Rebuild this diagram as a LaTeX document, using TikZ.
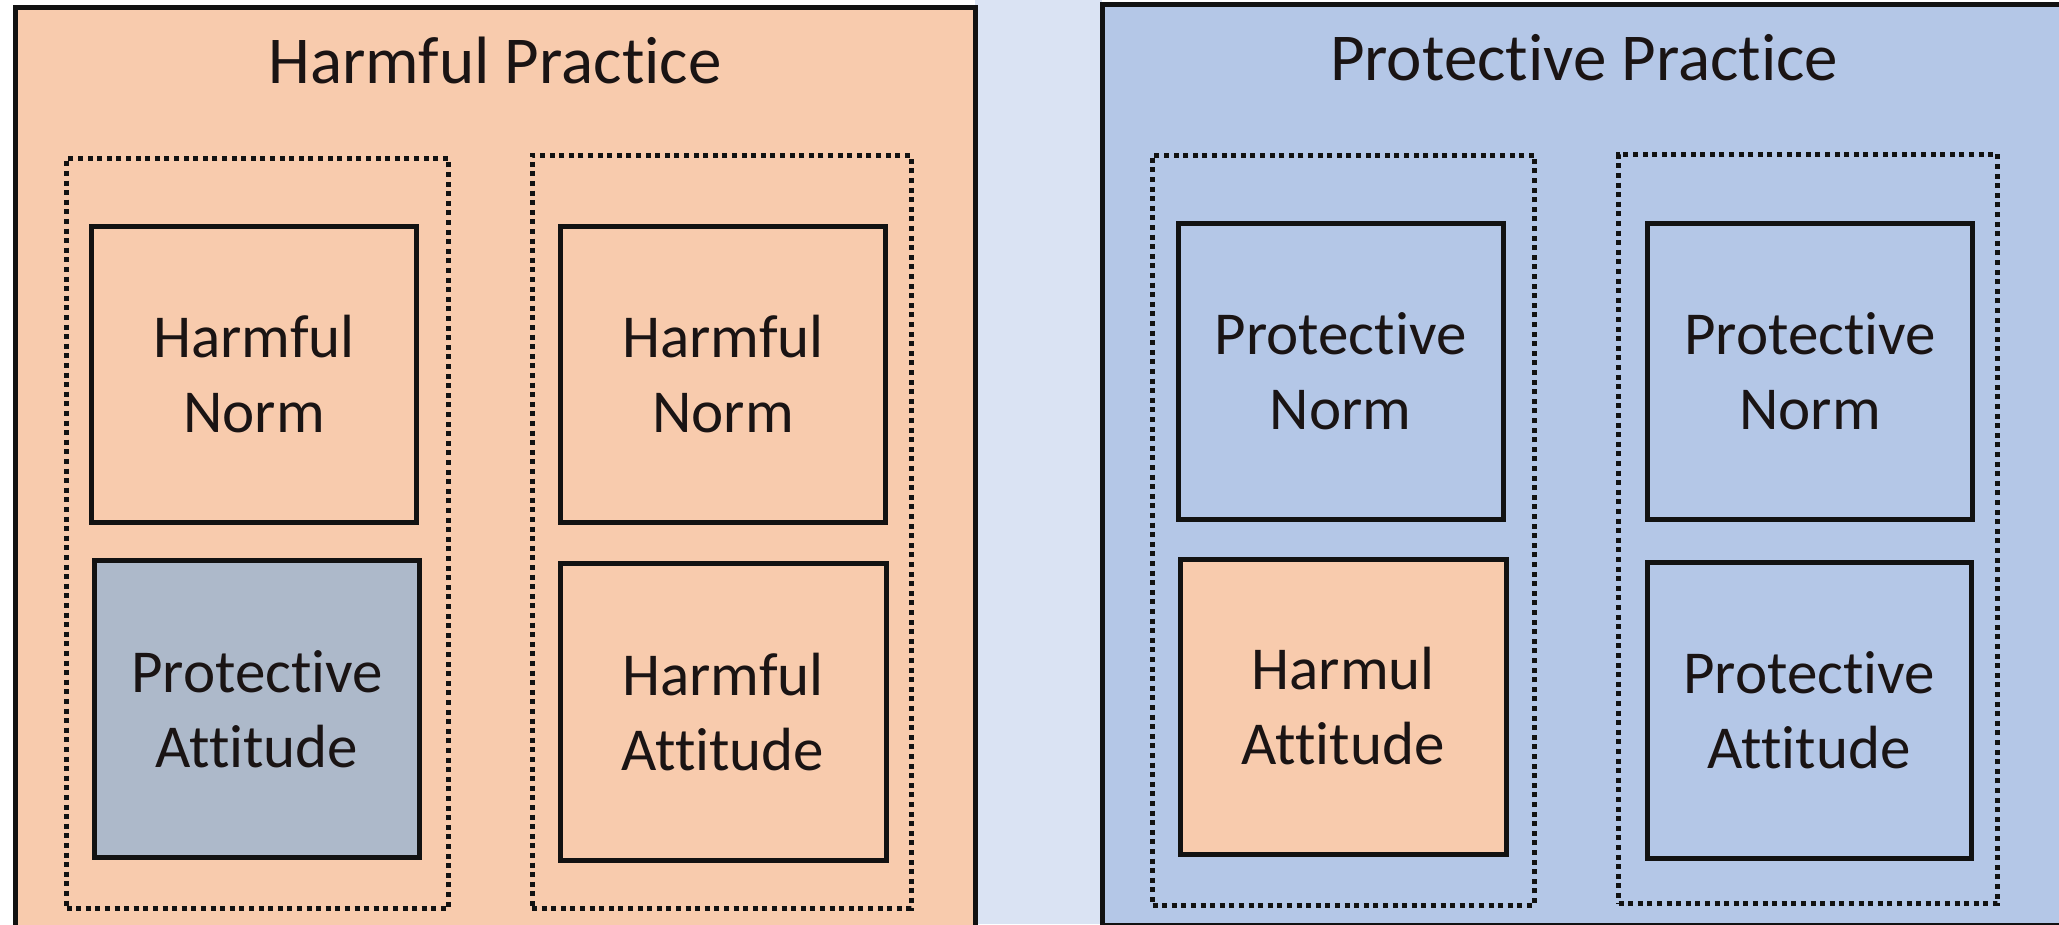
\documentclass[tikz,border=0pt]{standalone}
\usepackage{fontspec}
\setmainfont{Carlito}[Ligatures={NoCommon,NoContextual}]
\definecolor{harmfill}{HTML}{F8CBAD}
\definecolor{protfill}{HTML}{B4C7E7}
\definecolor{gapfill}{HTML}{DAE3F3}
\definecolor{mixfill}{HTML}{ADB9CA}
\definecolor{ink}{HTML}{121212}
\definecolor{txt}{HTML}{1A1414}

\begin{document}
\begin{tikzpicture}[x=1pt,y=-1pt,
  every node/.style={outer sep=0pt},
  panel/.style={draw=ink, line width=5pt},
  group/.style={draw=ink, line width=5pt, line cap=butt,
    dash pattern=on 5pt off 4.6pt},
  card/.style={draw=ink, line width=5pt, align=center, text=txt,
    font=\fontsize{61}{75}\selectfont},
  heading/.style={text=txt, font=\fontsize{67}{80}\selectfont, inner sep=0pt}]

  \useasboundingbox (0,0) rectangle (2059,924);
  \clip (0,0) rectangle (2059,924);

  % page and the strip between the two panels
  \fill[white] (0,0) rectangle (2059,924);
  \fill[gapfill] (975,0) rectangle (1102,924);

  % the two practice panels
  \node[panel, fill=harmfill, minimum width=959.5pt, minimum height=924.5pt]
    (harmpanel) at (495.25,469.75) {};
  \node[panel, fill=protfill, minimum width=968pt, minimum height=920.5pt]
    (protpanel) at (1586,464.75) {};

  % panel headings
  \node[heading, anchor=base] (harmtitle) at (495,83) {Harmful Practice};
  \node[heading, anchor=base] (prottitle) at (1584,80) {Protective Practice};

  % dotted groups, one per pairing of norm and attitude
  \node[group, minimum width=382pt, minimum height=750pt]   (g1) at (257.5,533.5) {};
  \node[group, minimum width=379pt, minimum height=752.5pt] (g2) at (721.5,531.75) {};
  \node[group, minimum width=382pt, minimum height=750pt]   (g3) at (1343.5,530) {};
  \node[group, minimum width=379pt, minimum height=749.5pt] (g4) at (1808,528.75) {};

  % norms and attitudes
  \node[card, fill=harmfill, minimum width=325pt, minimum height=296pt]
    (hn1) at (254,374.5) {Harmful\\Norm};
  \node[card, fill=mixfill, minimum width=325.5pt, minimum height=296.5pt]
    (pa1) at (257,709) {Protective\\Attitude};
  \node[card, fill=harmfill, minimum width=325pt, minimum height=295.5pt]
    (hn2) at (723,374.25) {Harmful\\Norm};
  \node[card, fill=harmfill, minimum width=326pt, minimum height=297pt]
    (ha2) at (723,712) {Harmful\\Attitude};
  \node[card, fill=protfill, minimum width=325pt, minimum height=295.5pt]
    (pn3) at (1340.5,371.25) {Protective\\Norm};
  \node[card, fill=harmfill, minimum width=325.5pt, minimum height=295pt]
    (ha3) at (1343.25,706.5) {Harmul\\Attitude};
  \node[card, fill=protfill, minimum width=325pt, minimum height=295.5pt]
    (pn4) at (1810,371.25) {Protective\\Norm};
  \node[card, fill=protfill, minimum width=324.5pt, minimum height=296pt]
    (pa4) at (1809.25,710.5) {Protective\\Attitude};
\end{tikzpicture}
\end{document}
